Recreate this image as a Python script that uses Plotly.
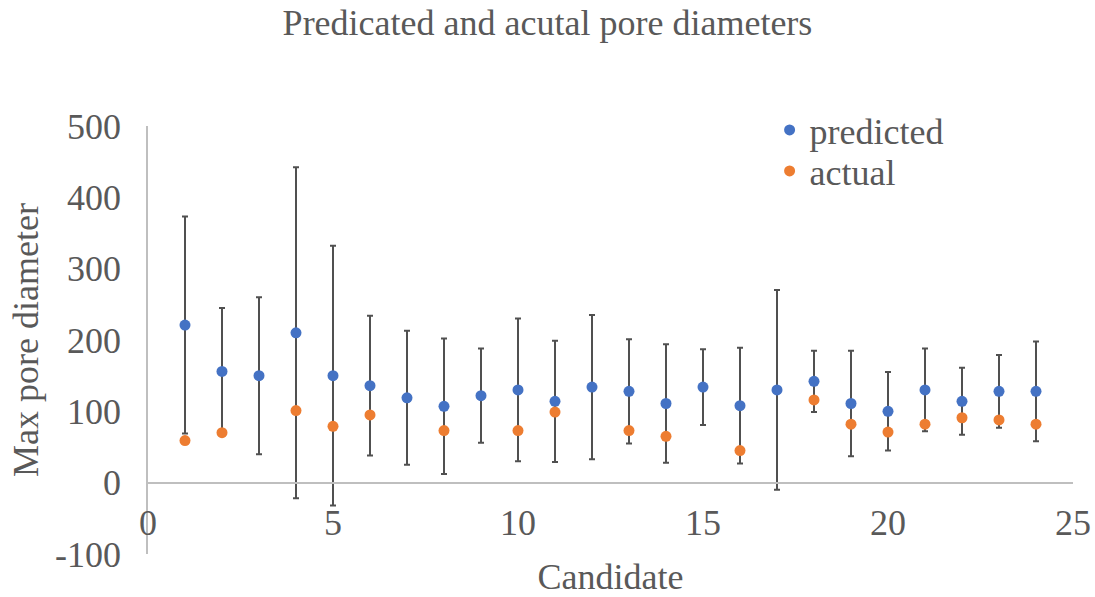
import plotly.graph_objects as go

candidates = list(range(1, 25))
predicted = [221, 156, 150, 210, 150, 136, 119, 107, 122, 130, 114, 134,
             128, 111, 134, 108, 130, 142, 111, 100, 130, 114, 128, 128]
pred_err = [152, 89, 110, 232, 182, 98, 94, 95, 66, 100, 85, 101,
            73, 83, 53, 81, 140, 43, 74, 55, 58, 47, 51, 70]
actual = [59, 70, None, 101, 79, 95, None, 73, None, 73, 99, None,
          73, 65, None, 45, None, 116, 82, 71, 82, 91, 88, 82]

y_ticks = [-100, 0, 100, 200, 300, 400, 500]
y_ticktext = ["-100", "0", "100", "200", "300", "400", "500"]
x_ticks = [0, 5, 10, 15, 20, 25]

FONT = "Liberation Serif, Times New Roman, serif"
TXT = "#595959"
AXC = "#BFBFBF"

fig = go.Figure()
fig.add_trace(go.Scatter(
    x=candidates, y=predicted, mode="markers", name="predicted",
    marker=dict(color="#4472C4", size=11),
    error_y=dict(type="data", array=pred_err, visible=True,
                 color="#505050", thickness=2, width=3),
    legend="legend",
))
fig.add_trace(go.Scatter(
    x=candidates, y=actual, mode="markers", name="actual",
    marker=dict(color="#ED7D31", size=11),
    legend="legend2",
))

leg_common = dict(xanchor="left", yanchor="middle", bgcolor="rgba(0,0,0,0)",
                  itemwidth=30, font=dict(family=FONT, size=36, color=TXT),
                  borderwidth=0)

fig.update_layout(
    width=1095, height=597,
    margin=dict(l=148, r=22, t=126, b=43),
    paper_bgcolor="white", plot_bgcolor="white",
    font=dict(family=FONT, size=36, color=TXT),
    title=dict(text="Predicated and acutal pore diameters",
               x=0.5, xanchor="center", y=0.963, yanchor="middle",
               yref="container", font=dict(family=FONT, size=36, color=TXT)),
    showlegend=True,
    legend=dict(x=0.672, y=(554 - 130) / 428, **leg_common),
    legend2=dict(x=0.672, y=(554 - 171) / 428, **leg_common),
    xaxis=dict(range=[0, 25], tickvals=x_ticks, showgrid=False, zeroline=False,
               showline=True, linecolor=AXC, linewidth=1.5,
               anchor="free", position=1/6, ticks="",
               ticklabelstandoff=8,
               tickfont=dict(family=FONT, size=36, color=TXT),
               title=dict(text="Candidate", standoff=24,
                          font=dict(family=FONT, size=36, color=TXT)),
               automargin=False),
    yaxis=dict(range=[-100, 500], tickvals=y_ticks, ticktext=y_ticktext,
               showgrid=False, zeroline=False,
               showline=True, linecolor=AXC, linewidth=1.5, ticks="",
               ticklabelstandoff=18,
               tickfont=dict(family=FONT, size=36, color=TXT),
               title=dict(text="Max pore diameter", standoff=5,
                          font=dict(family=FONT, size=36, color=TXT)),
               automargin=False),
)

fig.write_html("out.html")
